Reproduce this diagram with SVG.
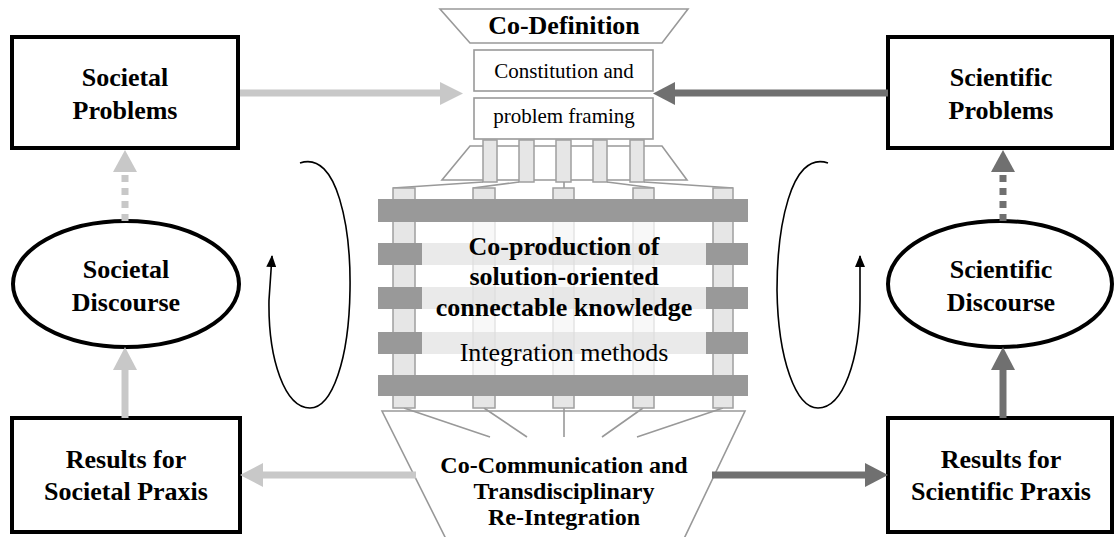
<svg xmlns="http://www.w3.org/2000/svg" width="1115" height="537" viewBox="0 0 1115 537">
<style>
.box{fill:#fff;stroke:#000;stroke-width:4}
.lbl{font-family:"Liberation Serif","Times New Roman",serif;font-weight:bold;font-size:26px;fill:#000;text-anchor:middle}
.reg{font-family:"Liberation Serif","Times New Roman",serif;font-size:21px;fill:#000;text-anchor:middle}
.thin{fill:#fff;stroke:#999;stroke-width:1.6}
.pil{fill:#e6e6e6;stroke:#9f9f9f;stroke-width:1.5}
.bar{fill:#999}
.cl{stroke:#999;stroke-width:1.6;fill:none}
.light{stroke:#c8c8c8;stroke-width:7;fill:none}
.dark{stroke:#707070;stroke-width:7;fill:none}
.loop{stroke:#000;stroke-width:1.6;fill:none}
</style>
<defs>
<marker id="bh" viewBox="0 0 12 10" refX="11" refY="5" markerWidth="12" markerHeight="10" markerUnits="userSpaceOnUse" orient="auto">
<path d="M0,0 L12,5 L0,10 Z" fill="#000"/>
</marker>
</defs>
<rect width="1115" height="537" fill="#fff"/>

<g id="co-definition">
<polygon class="thin" points="440,9 688,9 662,43 470,43"/>
<text class="lbl" x="564" y="34">Co-Definition</text>
<rect class="thin" x="474" y="50" width="179" height="41"/>
<text class="reg" x="564" y="78">Constitution and</text>
<rect class="thin" x="474" y="98" width="179" height="41"/>
<text class="reg" x="564" y="123">problem framing</text>
<polygon class="thin" points="470,146 662,146 687,180 442,180"/>
<rect class="pil" x="483" y="140" width="14" height="42"/>
<rect class="pil" x="519" y="140" width="15" height="42"/>
<rect class="pil" x="556" y="140" width="15" height="42"/>
<rect class="pil" x="593" y="140" width="14" height="42"/>
<rect class="pil" x="630" y="140" width="14" height="42"/>
<path class="cl" d="M393,188 L483,182 M473,188 L519,182 M564,188 L564,182 M654,188 L607,182 M733,188 L644,182"/>
</g>

<g id="co-communication">
<polygon class="thin" points="382,411 745,411 681,545 449,545"/>
<path class="cl" d="M404,408 L490,437 M484,408 L527,437 M564,408 L564,437 M643,408 L602,437 M723,408 L637,437"/>
<text class="lbl" x="564" y="473" style="font-size:24px">Co-Communication and</text>
<text class="lbl" x="564" y="499" style="font-size:24px">Transdisciplinary</text>
<text class="lbl" x="564" y="525" style="font-size:24px">Re-Integration</text>
</g>

<g id="co-production">
<rect class="pil" x="393" y="188" width="22" height="220"/>
<rect class="pil" x="473" y="188" width="22" height="220"/>
<rect class="pil" x="553" y="188" width="21" height="220"/>
<rect class="pil" x="633" y="188" width="21" height="220"/>
<rect class="pil" x="713" y="188" width="20" height="220"/>
<rect x="422" y="222" width="284" height="153" fill="#fff" opacity="0.72"/>
<rect x="422" y="243" width="284" height="22" fill="#dcdcdc" opacity="0.6"/>
<rect x="422" y="287" width="284" height="22" fill="#dcdcdc" opacity="0.6"/>
<rect x="422" y="332" width="284" height="22" fill="#dcdcdc" opacity="0.6"/>
<rect class="bar" x="378" y="199" width="370" height="23"/>
<rect class="bar" x="378" y="243" width="44" height="22"/>
<rect class="bar" x="706" y="243" width="42" height="22"/>
<rect class="bar" x="378" y="287" width="44" height="22"/>
<rect class="bar" x="706" y="287" width="42" height="22"/>
<rect class="bar" x="378" y="332" width="44" height="22"/>
<rect class="bar" x="706" y="332" width="42" height="22"/>
<rect class="bar" x="378" y="375" width="370" height="21"/>
<text class="lbl" x="564" y="255">Co-production of</text>
<text class="lbl" x="564" y="285">solution-oriented</text>
<text class="lbl" x="564" y="316">connectable knowledge</text>
<text class="lbl" x="564" y="361" style="font-weight:normal">Integration methods</text>
</g>

<g id="societal-problems">
<rect class="box" x="12" y="37" width="226" height="111"/>
<text class="lbl" x="125" y="86">Societal</text>
<text class="lbl" x="125" y="119">Problems</text>
</g>
<g id="scientific-problems">
<rect class="box" x="888" y="37" width="224" height="111"/>
<text class="lbl" x="1001" y="86">Scientific</text>
<text class="lbl" x="1001" y="119">Problems</text>
</g>
<g id="societal-discourse">
<ellipse class="box" cx="126" cy="284" rx="113" ry="63"/>
<text class="lbl" x="126" y="278">Societal</text>
<text class="lbl" x="126" y="311">Discourse</text>
</g>
<g id="scientific-discourse">
<ellipse class="box" cx="1000" cy="284" rx="112" ry="63"/>
<text class="lbl" x="1001" y="278">Scientific</text>
<text class="lbl" x="1001" y="311">Discourse</text>
</g>
<g id="results-societal">
<rect class="box" x="12" y="418" width="228" height="114"/>
<text class="lbl" x="126" y="468">Results for</text>
<text class="lbl" x="126" y="500">Societal Praxis</text>
</g>
<g id="results-scientific">
<rect class="box" x="888" y="418" width="224" height="114"/>
<text class="lbl" x="1001" y="468">Results for</text>
<text class="lbl" x="1001" y="500">Scientific Praxis</text>
</g>

<g id="connectors">
<line class="light" x1="240" y1="93" x2="441" y2="93"/>
<polygon fill="#c8c8c8" points="440,82 463,93.5 440,105"/>
<line class="dark" x1="888" y1="93" x2="674" y2="93"/>
<polygon fill="#707070" points="675,82 653,93.5 675,105"/>
<line class="light" x1="416" y1="475" x2="262" y2="475"/>
<polygon fill="#c8c8c8" points="263,463 240,475 263,487"/>
<line class="dark" x1="712" y1="475" x2="866" y2="475"/>
<polygon fill="#707070" points="865,463 888,475 865,487"/>
<line class="light" x1="125" y1="221" x2="125" y2="172" stroke-width="8" stroke-dasharray="7,6"/>
<polygon fill="#c8c8c8" points="113,172 125,150 137,172"/>
<line class="light" x1="125" y1="418" x2="125" y2="369" stroke-width="8"/>
<polygon fill="#c8c8c8" points="113,370 125,347 137,370"/>
<line class="dark" x1="1003" y1="221" x2="1003" y2="172" stroke-width="8" stroke-dasharray="7,6"/>
<polygon fill="#707070" points="991,172 1003,150 1015,172"/>
<line class="dark" x1="1003" y1="418" x2="1003" y2="369" stroke-width="8"/>
<polygon fill="#707070" points="991,370 1003,347 1015,370"/>
<path class="loop" marker-end="url(#bh)" d="M300,163 C338,150 351,230 350,290 C349,360 332,408 310,408 C285,408 268,360 269,300 L272,256"/>
<path class="loop" marker-end="url(#bh)" d="M828,163 C790,150 777,230 777,290 C778,360 796,408 818,408 C843,408 860,360 860,300 L860,256"/>
</g>
</svg>
